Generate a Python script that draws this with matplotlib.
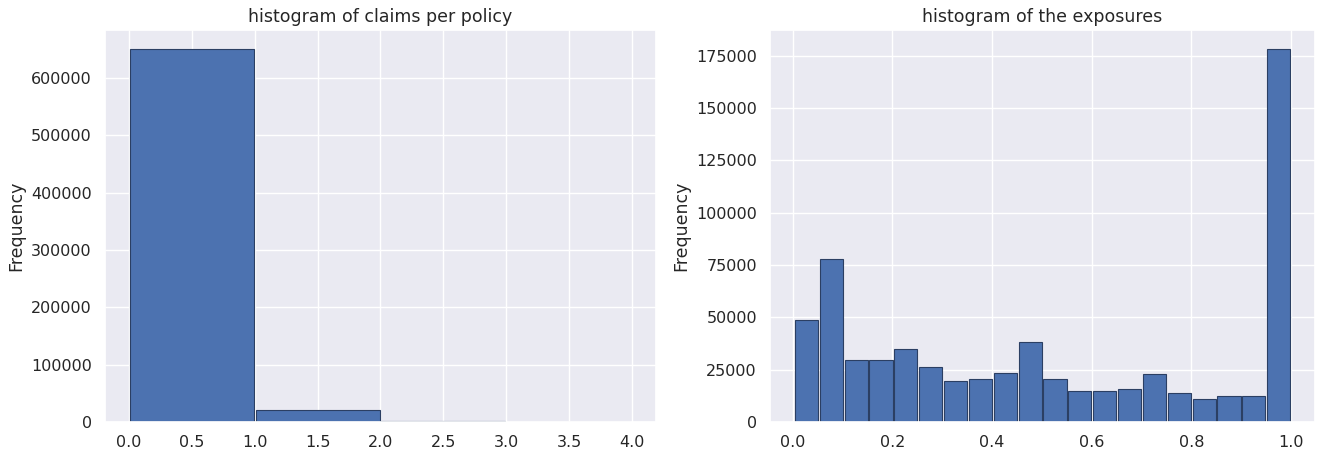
import numpy as np
import seaborn as sns
from matplotlib import pyplot as plt

# claims per policy: bin edges 0..4, counts per bin
claim_edges = [0, 1, 2, 3, 4]
claim_counts = [651000, 20500, 900, 60]

# exposures: 20 bins between min and max exposure
exposure_min = 0.0027
exposure_max = 1.0
exposure_counts = [48700, 77700, 29400, 29800, 34800, 26500, 19600, 20400,
                   23600, 38000, 20400, 15000, 15000, 15900, 22700, 14000,
                   10900, 12600, 12600, 178200]


def main():
    sns.set_theme(style='darkgrid')
    plt.rcParams['font.family'] = ['DejaVu Sans']

    fig = plt.figure(figsize=(13.21, 4.55), dpi=100)
    ax1 = fig.add_axes([0.0795, 0.0725, 0.417, 0.861])
    ax2 = fig.add_axes([0.583, 0.0725, 0.4125, 0.861])

    color = '#4c72b0'
    edge = '#2b3f63'

    ax1.hist(claim_edges[:-1], bins=claim_edges, weights=claim_counts,
             color=color, edgecolor=edge, linewidth=0.8, rwidth=0.985)
    ax1.set_title('histogram of claims per policy', fontsize=12.5)
    ax1.set_ylabel('Frequency', fontsize=12.5)
    ax1.set_xticks(np.arange(0, 4.01, 0.5))

    exp_edges = np.linspace(exposure_min, exposure_max, len(exposure_counts) + 1)
    ax2.hist(exp_edges[:-1], bins=exp_edges, weights=exposure_counts,
             color=color, edgecolor=edge, linewidth=0.8, rwidth=0.93)
    ax2.set_title('histogram of the exposures', fontsize=12.5)
    ax2.set_ylabel('Frequency', fontsize=12.5)
    ax2.set_yticks(np.arange(0, 175001, 25000))

    for ax in (ax1, ax2):
        ax.tick_params(labelsize=11.5)

    fig.savefig('out.png', dpi=100)


if __name__ == '__main__':
    main()
